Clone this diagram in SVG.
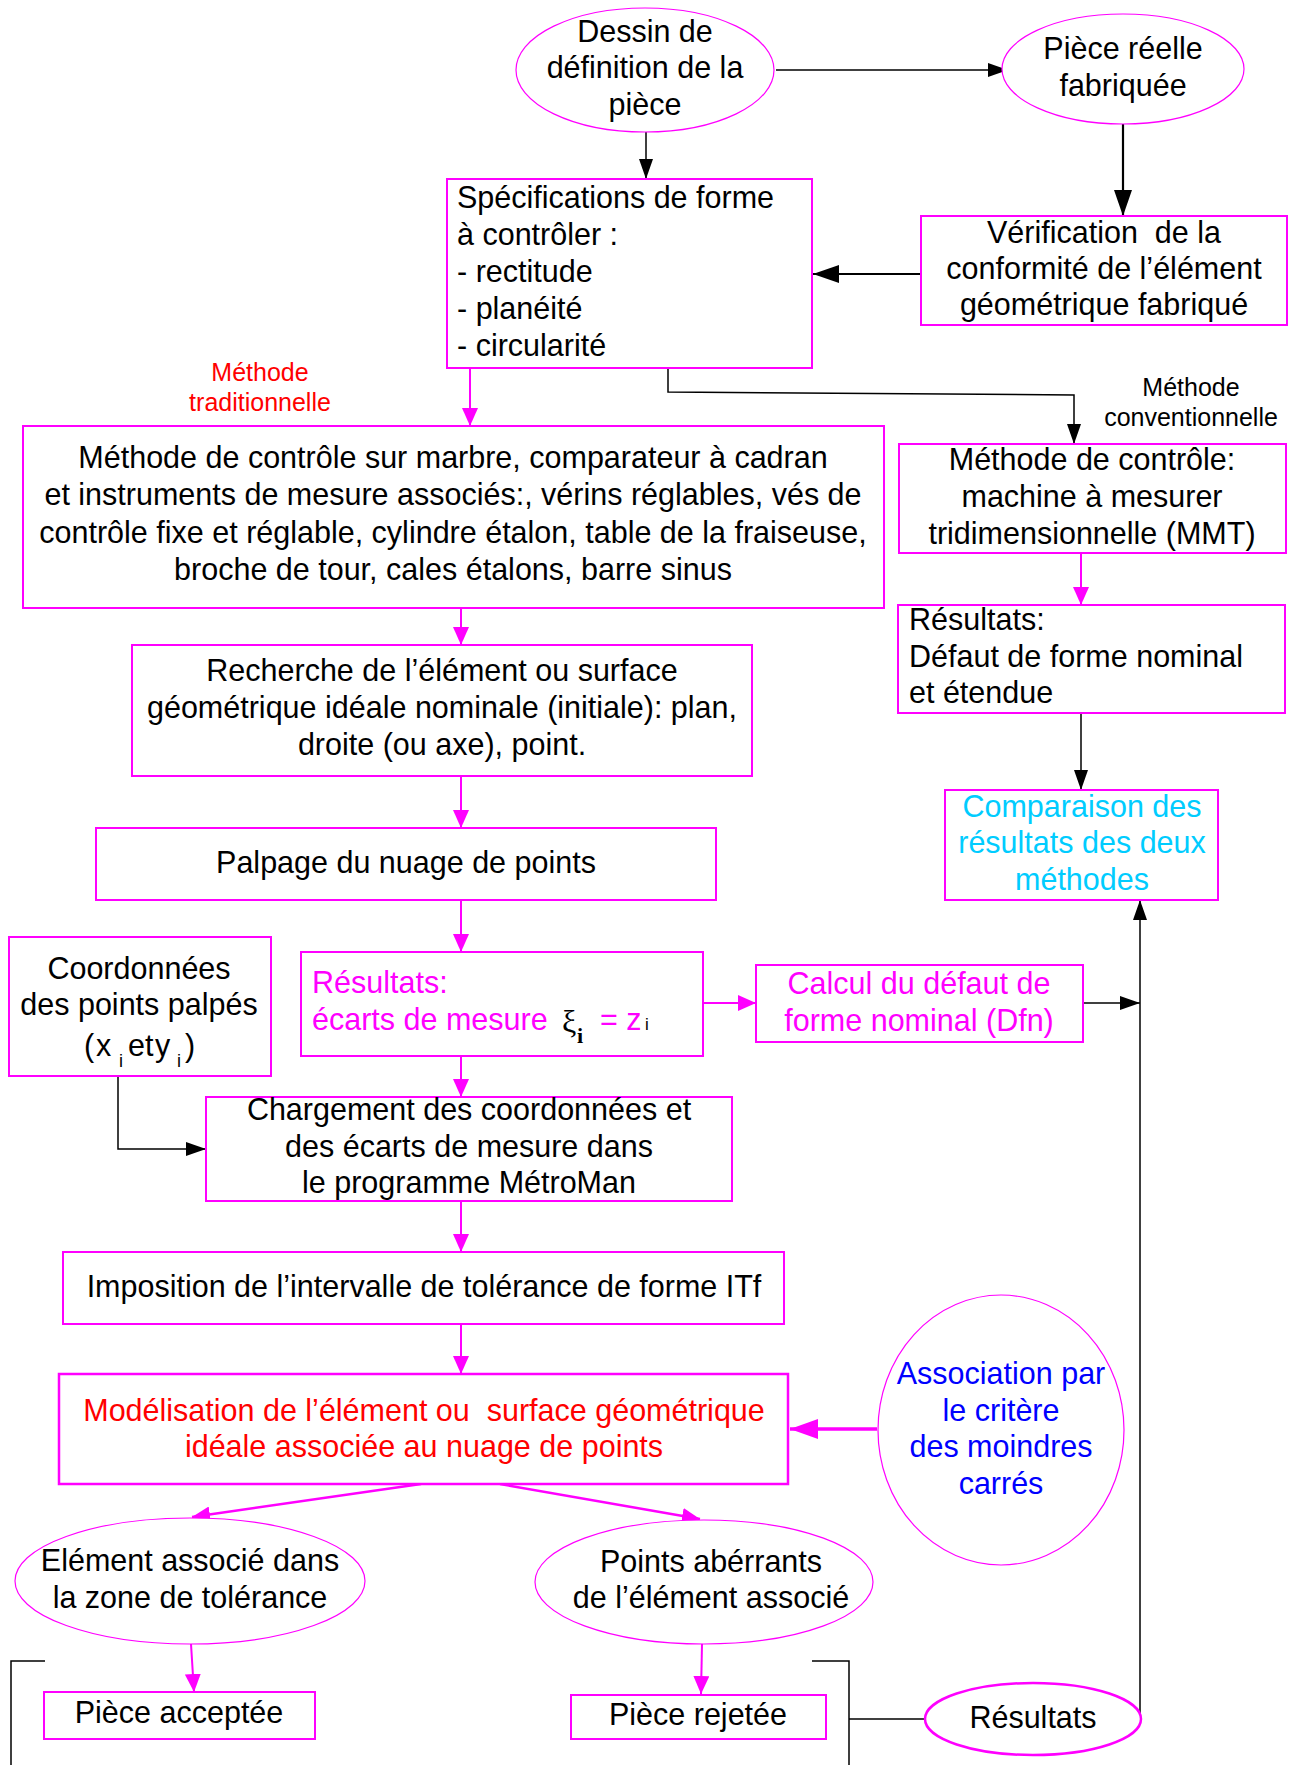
<svg xmlns="http://www.w3.org/2000/svg" width="1297" height="1765" viewBox="0 0 1297 1765">
  <defs>
    <style>
      text { font-family: "Liberation Sans", Arial, sans-serif; font-size: 30.5px; fill: #000; }
      .c { text-anchor: middle; }
      .small { font-size: 25px; }
      .sub { font-size: 18px; }
      .mag { fill: #ff00ff; }
      .red { fill: #ff0000; }
      .blue { fill: #0000ff; }
      .cyan { fill: #00ccff; }
      .box { fill: #fff; stroke: #ff00ff; stroke-width: 2; }
      .oval { fill: #fff; stroke: #ff00ff; stroke-width: 1.2; }
      .k { fill: none; stroke: #000; stroke-width: 1.5; }
      .kt { fill: none; stroke: #000; stroke-width: 2.2; }
      .m { fill: none; stroke: #ff00ff; stroke-width: 2; }
      .serif { font-family: "Liberation Serif", "Times New Roman", serif; }
    </style>
    <marker id="ak" markerUnits="userSpaceOnUse" markerWidth="20" markerHeight="14" refX="20" refY="7" orient="auto">
      <path d="M0,0 L20,7 L0,14 Z" fill="#000"/>
    </marker>
    <marker id="akb" markerUnits="userSpaceOnUse" markerWidth="26" markerHeight="18" refX="26" refY="9" orient="auto">
      <path d="M0,0 L26,9 L0,18 Z" fill="#000"/>
    </marker>
    <marker id="am" markerUnits="userSpaceOnUse" markerWidth="18" markerHeight="16" refX="18" refY="8" orient="auto">
      <path d="M0,0 L18,8 L0,16 Z" fill="#ff00ff"/>
    </marker>
    <marker id="amb" markerUnits="userSpaceOnUse" markerWidth="28" markerHeight="20" refX="28" refY="10" orient="auto">
      <path d="M0,0 L28,10 L0,20 Z" fill="#ff00ff"/>
    </marker>
  </defs>

  <rect width="1297" height="1765" fill="#fff"/>

  <!-- connectors -->
  <g id="connectors">
    <line class="k" x1="776" y1="70" x2="1008" y2="70" marker-end="url(#ak)"/>
    <line class="k" x1="646" y1="132" x2="646" y2="179" marker-end="url(#ak)"/>
    <line class="kt" x1="1123" y1="124" x2="1123" y2="216" marker-end="url(#akb)"/>
    <line class="kt" x1="921" y1="274" x2="813" y2="274" marker-end="url(#akb)"/>
    <polyline class="k" points="668,368 668,392 1074,395 1074,444" marker-end="url(#ak)"/>
    <line class="k" x1="1081" y1="713" x2="1081" y2="790" marker-end="url(#ak)"/>
    <line class="k" x1="1083" y1="1003" x2="1140" y2="1003" marker-end="url(#ak)"/>
    <line class="k" x1="1140" y1="1719" x2="1140" y2="900" marker-end="url(#ak)"/>
    <polyline class="k" points="118,1076 118,1149 206,1149" marker-end="url(#ak)"/>
    <polyline class="k" points="45,1661 11,1661 11,1765"/>
    <polyline class="k" points="812,1661 849,1661 849,1765"/>
    <line class="k" x1="849" y1="1719" x2="925" y2="1719"/>

    <line class="m" x1="470" y1="368" x2="470" y2="426" marker-end="url(#am)"/>
    <line class="m" x1="461" y1="608" x2="461" y2="645" marker-end="url(#am)"/>
    <line class="m" x1="461" y1="776" x2="461" y2="828" marker-end="url(#am)"/>
    <line class="m" x1="461" y1="900" x2="461" y2="952" marker-end="url(#am)"/>
    <line class="m" x1="703" y1="1003" x2="756" y2="1003" marker-end="url(#am)"/>
    <line class="m" x1="461" y1="1056" x2="461" y2="1097" marker-end="url(#am)"/>
    <line class="m" x1="461" y1="1201" x2="461" y2="1252" marker-end="url(#am)"/>
    <line class="m" x1="461" y1="1325" x2="461" y2="1374" marker-end="url(#am)"/>
    <line class="m" x1="1081" y1="553" x2="1081" y2="605" marker-end="url(#am)"/>
    <line class="m" style="stroke-width:3.5" x1="877" y1="1429" x2="790" y2="1429" marker-end="url(#amb)"/>
    <line class="m" style="stroke-width:2.5" x1="421" y1="1484" x2="192" y2="1517" marker-end="url(#am)"/>
    <line class="m" style="stroke-width:2.5" x1="500" y1="1484" x2="700" y2="1519" marker-end="url(#am)"/>
    <line class="m" x1="191" y1="1644" x2="194" y2="1692" marker-end="url(#am)"/>
    <line class="m" x1="702" y1="1644" x2="701" y2="1694" marker-end="url(#am)"/>
  </g>

  <!-- labels on the two branches -->
  <g id="label-traditionnelle">
    <text class="c small red" x="260" y="381">Méthode</text>
    <text class="c small red" x="260" y="411">traditionnelle</text>
  </g>
  <g id="label-conventionnelle">
    <text class="c small" x="1191" y="396">Méthode</text>
    <text class="c small" x="1191" y="426">conventionnelle</text>
  </g>

  <g id="dessin">
    <ellipse class="oval" cx="645" cy="70" rx="129" ry="62"/>
    <text class="c" x="645" y="42">Dessin de</text>
    <text class="c" x="645" y="78">définition de la</text>
    <text class="c" x="645" y="115">pièce</text>
  </g>

  <g id="piece-reelle">
    <ellipse class="oval" cx="1123" cy="69" rx="121" ry="55"/>
    <text class="c" x="1123" y="59">Pièce réelle</text>
    <text class="c" x="1123" y="96">fabriquée</text>
  </g>

  <g id="specifications">
    <rect class="box" x="447" y="179" width="365" height="189"/>
    <text x="457" y="208">Spécifications de forme</text>
    <text x="457" y="245">à contrôler :</text>
    <text x="457" y="282">- rectitude</text>
    <text x="457" y="319">- planéité</text>
    <text x="457" y="356">- circularité</text>
  </g>

  <g id="verification">
    <rect class="box" x="921" y="216" width="366" height="109"/>
    <text class="c" x="1104" y="243" xml:space="preserve">Vérification  de la</text>
    <text class="c" x="1104" y="279">conformité de l’élément</text>
    <text class="c" x="1104" y="315">géométrique fabriqué</text>
  </g>

  <g id="methode-marbre">
    <rect class="box" x="23" y="426" width="861" height="182"/>
    <text class="c" x="453" y="468">Méthode de contrôle sur marbre, comparateur à cadran</text>
    <text class="c" x="453" y="505">et instruments de mesure associés:, vérins réglables, vés de</text>
    <text class="c" x="453" y="543">contrôle fixe et réglable, cylindre étalon, table de la fraiseuse,</text>
    <text class="c" x="453" y="580">broche de tour, cales étalons, barre sinus</text>
  </g>

  <g id="methode-mmt">
    <rect class="box" x="899" y="444" width="387" height="109"/>
    <text class="c" x="1092" y="470">Méthode de contrôle:</text>
    <text class="c" x="1092" y="507">machine à mesurer</text>
    <text class="c" x="1092" y="544">tridimensionnelle (MMT)</text>
  </g>

  <g id="resultats-mmt">
    <rect class="box" x="898" y="605" width="387" height="108"/>
    <text x="909" y="630">Résultats:</text>
    <text x="909" y="667">Défaut de forme nominal</text>
    <text x="909" y="703">et étendue</text>
  </g>

  <g id="comparaison">
    <rect class="box" x="945" y="790" width="273" height="110"/>
    <text class="c cyan" x="1082" y="817">Comparaison des</text>
    <text class="c cyan" x="1082" y="853">résultats des deux</text>
    <text class="c cyan" x="1082" y="890">méthodes</text>
  </g>

  <g id="recherche">
    <rect class="box" x="132" y="645" width="620" height="131"/>
    <text class="c" x="442" y="681">Recherche de l’élément ou surface</text>
    <text class="c" x="442" y="718">géométrique idéale nominale (initiale): plan,</text>
    <text class="c" x="442" y="755">droite (ou axe), point.</text>
  </g>

  <g id="palpage">
    <rect class="box" x="96" y="828" width="620" height="72"/>
    <text class="c" x="406" y="873">Palpage du nuage de points</text>
  </g>

  <g id="coordonnees">
    <rect class="box" x="9" y="937" width="262" height="139"/>
    <text class="c" x="139" y="979">Coordonnées</text>
    <text class="c" x="139" y="1015">des points palpés</text>
    <text x="84" y="1056">(</text>
    <text x="96" y="1056">x</text>
    <text class="sub" x="119" y="1067">i</text>
    <text x="128" y="1056">et</text>
    <text x="155" y="1056">y</text>
    <text class="sub" x="177" y="1067">i</text>
    <text x="185" y="1056">)</text>
  </g>

  <g id="resultats-ecarts">
    <rect class="box" x="301" y="952" width="402" height="104"/>
    <text class="mag" x="312" y="993">Résultats:</text>
    <text class="mag" x="312" y="1030">écarts de mesure</text>
    <text class="serif" x="562" y="1032" style="font-size:32px">ξ</text>
    <text class="serif" x="577" y="1043" style="font-size:22px;font-weight:bold">i</text>
    <text class="mag" x="600" y="1030">= z</text>
    <text x="645" y="1030" style="font-size:17px">i</text>
  </g>

  <g id="calcul">
    <rect class="box" x="756" y="965" width="327" height="77"/>
    <text class="c mag" x="919" y="994">Calcul du défaut de</text>
    <text class="c mag" x="919" y="1031">forme nominal (Dfn)</text>
  </g>

  <g id="chargement">
    <rect class="box" x="206" y="1097" width="526" height="104"/>
    <text class="c" x="469" y="1120">Chargement des coordonnées et</text>
    <text class="c" x="469" y="1157">des écarts de mesure dans</text>
    <text class="c" x="469" y="1193">le programme MétroMan</text>
  </g>

  <g id="imposition">
    <rect class="box" x="63" y="1252" width="721" height="72"/>
    <text class="c" x="424" y="1297">Imposition de l’intervalle de tolérance de forme ITf</text>
  </g>

  <g id="modelisation">
    <rect class="box" style="stroke-width:2.5" x="59" y="1374" width="729" height="110"/>
    <text class="c red" x="424" y="1421" xml:space="preserve">Modélisation de l’élément ou  surface géométrique</text>
    <text class="c red" x="424" y="1457">idéale associée au nuage de points</text>
  </g>

  <g id="association">
    <ellipse class="oval" cx="1001" cy="1430" rx="123" ry="135"/>
    <text class="c blue" x="1001" y="1384">Association par</text>
    <text class="c blue" x="1001" y="1421">le critère</text>
    <text class="c blue" x="1001" y="1457">des moindres</text>
    <text class="c blue" x="1001" y="1494">carrés</text>
  </g>

  <g id="element-associe">
    <ellipse class="oval" cx="190" cy="1581" rx="175" ry="63"/>
    <text class="c" x="190" y="1571">Elément associé dans</text>
    <text class="c" x="190" y="1608">la zone de tolérance</text>
  </g>

  <g id="points-aberrants">
    <ellipse class="oval" cx="704" cy="1582" rx="169" ry="62"/>
    <text class="c" x="711" y="1572">Points abérrants</text>
    <text class="c" x="711" y="1608">de l’élément associé</text>
  </g>

  <g id="piece-acceptee">
    <rect class="box" x="44" y="1692" width="271" height="47"/>
    <text class="c" x="179" y="1723">Pièce acceptée</text>
  </g>

  <g id="piece-rejetee">
    <rect class="box" x="571" y="1695" width="255" height="44"/>
    <text class="c" x="698" y="1725">Pièce rejetée</text>
  </g>

  <g id="resultats-final">
    <ellipse class="oval" style="stroke-width:2.5" cx="1033" cy="1719" rx="108" ry="36"/>
    <text class="c" x="1033" y="1728">Résultats</text>
  </g>
</svg>
